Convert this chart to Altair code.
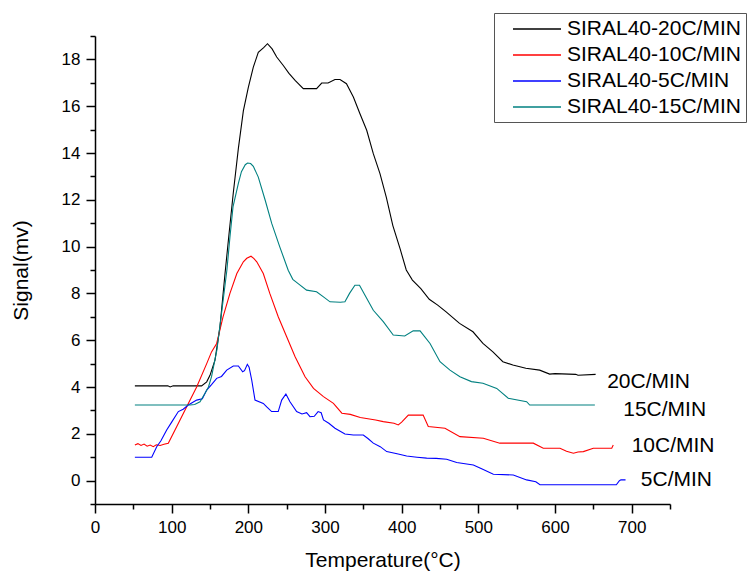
import altair as alt
import pandas as pd

series_names = ["SIRAL40-20C/MIN", "SIRAL40-10C/MIN", "SIRAL40-5C/MIN", "SIRAL40-15C/MIN"]
series_colors = ["#000000", "#ff0000", "#0000ff", "#008080"]

# SIRAL40-20C/MIN
t20 = [52, 95, 98, 102, 139, 145.7, 150, 156.5, 163, 169.6, 175, 180.4, 187, 193.5, 200, 206.5,
       213, 220, 225, 231, 237, 245.6, 253, 261, 271.7, 289, 295.7, 304, 313, 319.6, 328, 337,
       345.6, 354.4, 363, 371.7, 380, 388.5, 398, 406, 414, 425, 436, 447, 458, 475.5, 493, 506,
       519, 532, 545, 562, 580, 593, 600, 627, 630, 653]
s20 = [4.05, 4.05, 4.0, 4.05, 4.05, 4.22, 4.5, 5.15, 6.57, 8.85, 10.6, 12.3, 14.2, 15.8, 16.8, 17.67,
       18.3, 18.5, 18.67, 18.45, 18.1, 17.74, 17.4, 17.1, 16.75, 16.75, 16.99, 16.99, 17.14, 17.14, 16.96, 16.39,
       15.68, 14.97, 13.97, 13.12, 12.1, 10.9, 9.9, 9.0, 8.57, 8.2, 7.75, 7.5, 7.21, 6.72, 6.36, 5.86,
       5.5, 5.08, 4.94, 4.80, 4.72, 4.55, 4.57, 4.54, 4.5, 4.54]

# SIRAL40-10C/MIN
t10 = [52, 56, 60, 64, 68, 72, 76, 80, 85, 90, 95.6, 106.5, 119.6, 132.6, 145.7, 152, 158.7, 167,
       176, 185, 193.5, 198, 203.5, 207, 211, 219.5, 228, 239, 250, 261, 274, 285, 298, 311, 322,
       333, 346, 366, 376, 390, 395.6, 400, 408.7, 428, 434.7, 456.5, 476, 506.5, 528, 571.7, 584.7,
       606.5, 615, 624, 630, 637, 650, 674, 676]
s10 = [1.52, 1.58, 1.5, 1.56, 1.47, 1.52, 1.45, 1.53, 1.5, 1.55, 1.6, 2.3, 3.16, 4.0, 5.0, 5.5, 5.86, 7.0,
       8.0, 8.85, 9.35, 9.5, 9.59, 9.5, 9.35, 8.85, 8.0, 7.0, 6.15, 5.29, 4.44, 3.94, 3.59, 3.3, 2.88,
       2.83, 2.7, 2.59, 2.52, 2.45, 2.38, 2.5, 2.8, 2.8, 2.31, 2.24, 1.88, 1.81, 1.6, 1.6, 1.38,
       1.38, 1.25, 1.17, 1.22, 1.24, 1.38, 1.38, 1.52]

# SIRAL40-5C/MIN
t5 = [52, 74, 80.5, 86, 93.5, 100, 108.7, 115, 121.7, 132.6, 140, 145.7, 152, 158.7, 165, 171.8,
      180.4, 187, 192.6, 195, 198.7, 201, 204.4, 208.7, 219.5, 224, 230.4, 239, 243.5, 249, 254.3,
      263, 270, 276, 280.4, 286, 291, 295, 298, 305, 313, 326, 337, 350, 356, 363, 372, 380.5, 394,
      406.5, 420, 432.6, 445, 458.7, 471.8, 493.5, 505, 519.6, 545.6, 563, 575, 580.4, 680, 684,
      686, 692]
s5 = [1.0, 1.0, 1.45, 1.7, 2.16, 2.5, 2.95, 3.05, 3.23, 3.44, 3.5, 3.87, 4.1, 4.37, 4.45, 4.72,
      4.9, 4.9, 4.65, 4.7, 4.97, 4.85, 4.3, 3.44, 3.3, 3.15, 2.95, 2.95, 3.44, 3.7, 3.37,
      2.95, 2.85, 2.9, 2.73, 2.75, 2.95, 2.9, 2.59, 2.45, 2.24, 1.99, 1.95, 1.95, 1.8, 1.6, 1.45, 1.24, 1.15,
      1.05, 1.0, 0.96, 0.95, 0.91, 0.77, 0.67, 0.5, 0.27, 0.24, 0.03, -0.05, -0.18, -0.18, 0.0,
      0.03, 0.03]

# SIRAL40-15C/MIN
t15 = [52, 124, 130, 137, 143.5, 148, 152, 159, 165, 172, 176, 180, 187, 191, 196, 199, 203,
       206.5, 213, 222, 230.5, 241, 252, 258, 265, 276, 289, 298, 306.5, 320, 326, 332, 339, 345,
       352, 363, 376, 389, 404, 415, 424, 437, 450, 463, 476, 491, 506, 524, 539, 563, 567, 652]
s15 = [3.23, 3.23, 3.25, 3.37, 3.73, 4.0, 4.44, 5.58, 7.14, 8.99, 10.4, 11.7, 12.7, 13.2, 13.5, 13.57, 13.55,
       13.43, 12.97, 11.98, 10.99, 9.99, 8.99, 8.6, 8.42, 8.14, 8.07, 7.85, 7.64, 7.62, 7.64, 8.0, 8.35, 8.35,
       7.93, 7.28, 6.79, 6.22, 6.18, 6.4, 6.4, 5.86, 5.08, 4.72, 4.44, 4.23, 4.16, 3.94, 3.52, 3.37, 3.23, 3.23]

# right-hand annotations
label_text = ["20C/MIN", "15C/MIN", "10C/MIN", "5C/MIN"]
label_t = [668, 689, 700, 712]
label_s = [4.21, 3.0, 1.5, 0.04]

x_major = [0, 100, 200, 300, 400, 500, 600, 700]
x_minor = [50, 150, 250, 350, 450, 550, 650, 750]
y_major = [0, 2, 4, 6, 8, 10, 12, 14, 16, 18]
y_minor = [-1, 1, 3, 5, 7, 9, 11, 13, 15, 17, 19]

rows = []
for name, ts, ss in zip(series_names, [t20, t10, t5, t15], [s20, s10, s5, s15]):
    for t, s in zip(ts, ss):
        rows.append({"series": name, "T": t, "S": s})
df = pd.DataFrame(rows)
labels_df = pd.DataFrame({"T": label_t, "S": label_s, "text": label_text})

FONT = "Liberation Sans"
xs = alt.Scale(domain=[0, 750], nice=False, zero=False)
ys = alt.Scale(domain=[-1, 19], nice=False, zero=False)

lines = alt.Chart(df).mark_line(strokeWidth=1.1, interpolate="linear").encode(
    x=alt.X("T:Q", scale=xs, axis=alt.Axis(
        values=x_major, orient="bottom", title="Temperature(°C)", format="d",
        tickSize=9, labelPadding=6, titlePadding=14, labelFontSize=17,
        titleFontSize=21, titleFontWeight="normal", labelFlush=False, labelOverlap=False)),
    y=alt.Y("S:Q", scale=ys, axis=alt.Axis(
        values=y_major, orient="left", title="Signal(mv)", format="d",
        tickSize=9, labelPadding=6, titlePadding=30, labelFontSize=17,
        titleFontSize=21, titleFontWeight="normal", labelFlush=False, labelOverlap=False)),
    color=alt.Color("series:N", sort=series_names,
                    scale=alt.Scale(domain=series_names, range=series_colors),
                    legend=alt.Legend(orient="none", legendX=399, legendY=-23, title=None,
                                      strokeColor="#555555", fillColor="white", padding=5,
                                      labelFontSize=21, labelFont=FONT, labelColor="black",
                                      symbolType="M-2.4,0H2.4", symbolSize=400, symbolStrokeWidth=1.5,
                                      symbolOffset=27, labelOffset=19, rowPadding=5, labelLimit=400)),
    detail="series:N",
)

minor = alt.Chart(df).mark_point(opacity=0, size=1).encode(
    x=alt.X("T:Q", scale=xs, axis=alt.Axis(values=x_minor, orient="bottom", labels=False,
                                           tickSize=5, domain=False, title=None)),
    y=alt.Y("S:Q", scale=ys, axis=alt.Axis(values=y_minor, orient="left", labels=False,
                                           tickSize=5, domain=False, title=None)),
)

texts = alt.Chart(labels_df).mark_text(align="left", baseline="middle", fontSize=21,
                                       font=FONT, color="black").encode(
    x=alt.X("T:Q", scale=xs, axis=None),
    y=alt.Y("S:Q", scale=ys, axis=None),
    text="text:N",
)

chart = alt.layer(lines, minor, texts).resolve_axis(x="independent", y="independent").properties(
    width=575, height=468, autosize=alt.AutoSizeParams(type="none"),
    padding={"left": 95, "top": 36, "right": 82, "bottom": 68},
    background="white",
).configure_axis(
    domainColor="black", tickColor="black", labelColor="black", titleColor="black",
    domainWidth=1.5, tickWidth=1.5, grid=False, labelFont=FONT, titleFont=FONT,
).configure_view(stroke="transparent")

chart.save("out.html", embed_options={"renderer": "svg", "actions": False})
